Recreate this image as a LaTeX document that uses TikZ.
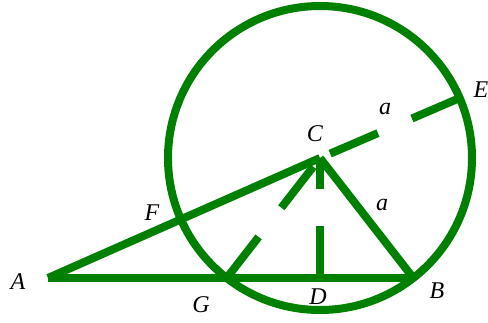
\documentclass[tikz,border=0pt]{standalone}
\usepackage{fontspec}
\setmainfont{Liberation Serif}
\definecolor{geo}{RGB}{0,128,0}
\begin{document}
\begin{tikzpicture}[x=1pt,y=-1pt,
  geoline/.style={draw=geo,line width=8pt},
  dashline/.style={geoline,dash pattern=on 52pt off 37pt},
  lbl/.style={font=\fontsize{24}{24}\selectfont\itshape,inner sep=0pt}]
\useasboundingbox (0,0) rectangle (488,322);
\coordinate (C) at (320,158);
\coordinate (A) at (48,278);
\coordinate (G) at (226.7,278);
\coordinate (B) at (413.3,278);
\coordinate (D) at (320,278);
\coordinate (E) at (459.7,98);
\coordinate (F) at (181,219.3);
\draw[geoline] (C) circle[radius=152];
\draw[geoline] (A) -- (B);
\draw[geoline] (A) -- (C);
\draw[geoline] (C) -- (B);
\draw[dashline] (D) -- (C);
\draw[dashline] (G) -- (C);
\draw[dashline] (E) -- (C);
\node[lbl] (lA) at (18,282) {A};
\node[lbl] (lB) at (437,291) {B};
\node[lbl] (lC) at (315,134) {C};
\node[lbl] (lD) at (318,297) {D};
\node[lbl] (lE) at (481,90) {E};
\node[lbl] (lF) at (152,213) {F};
\node[lbl] (lG) at (201,305) {G};
\node[lbl] (la1) at (385,109) {a};
\node[lbl] (la2) at (382,205) {a};
\end{tikzpicture}
\end{document}
